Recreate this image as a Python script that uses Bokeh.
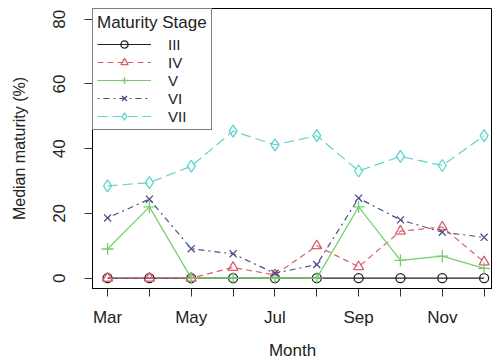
from bokeh.plotting import figure
from bokeh.models import FixedTicker, Legend, LegendItem, Range1d
from bokeh.embed import file_html
from bokeh.resources import INLINE

months = ["Mar", "Apr", "May", "Jun", "Jul", "Aug", "Sep", "Oct", "Nov", "Dec"]
month_num = [3, 4, 5, 6, 7, 8, 9, 10, 11, 12]
shown_labels = ["Mar", "", "May", "", "Jul", "", "Sep", "", "Nov", ""]

stage_III = [0, 0, 0, 0, 0, 0, 0, 0, 0, 0]
stage_IV = [0, 0, 0, 3.3, 1, 10, 3.5, 14.5, 15.8, 5]
stage_V = [9, 22, 0, 0, 0, 0, 22, 5.5, 6.8, 3]
stage_VI = [18.6, 24.4, 9.1, 7.5, 1.5, 4.2, 24.7, 18, 14.2, 12.6]
stage_VII = [28.5, 29.5, 34.6, 45.4, 41.2, 44, 33.1, 37.6, 34.8, 44]

y_ticks = [0, 20, 40, 60, 80]

FONT = "Liberation Sans"
FS = "17px"

p = figure(width=492, height=362, output_backend="svg", toolbar_location=None,
           x_range=Range1d(2.64, 12.2), y_range=Range1d(-3.2, 83.3),
           min_border_left=92, min_border_right=0, min_border_top=8,
           min_border_bottom=73)
p.xgrid.visible = False
p.ygrid.visible = False
p.outline_line_color = "black"
p.outline_line_width = 1
p.background_fill_color = "white"
p.border_fill_color = "white"

series = [
    ("III", stage_III, "#222222", "solid", "circle", 9),
    ("IV", stage_IV, "#d8616f", "6 4", "triangle", 10),
    ("V", stage_V, "#74cf6b", "solid", "cross", 12),
    ("VI", stage_VI, "#4a4f8a", "2 4 6 4", "x", 10),
    ("VII", stage_VII, "#5cd6cc", "10 5", "diamond", 12),
]

items = []
for name, vals, col, dash, mk, sz in series:
    l = p.line(month_num, vals, line_color=col, line_width=1.2, line_dash=dash)
    s = p.scatter(month_num, vals, marker=mk, size=sz, line_color=col,
                  fill_color=None, line_width=1.3)
    items.append(LegendItem(label=name, renderers=[l, s]))

legend = Legend(items=items, location="top_left", title="Maturity Stage",
                margin=0, padding=4, spacing=0, glyph_width=54, glyph_height=18,
                label_height=18, label_standoff=17, title_standoff=2,
                border_line_color="black", border_line_width=1,
                background_fill_color="white", background_fill_alpha=1.0,
                label_text_font=FONT, label_text_font_size="15px",
                title_text_font=FONT, title_text_font_size=FS,
                title_text_font_style="normal", label_text_color="#222222",
                title_text_color="#222222")
p.add_layout(legend)

p.xaxis.ticker = FixedTicker(ticks=month_num)
p.xaxis.major_label_overrides = {m: lab for m, lab in zip(month_num, shown_labels)}
p.yaxis.ticker = FixedTicker(ticks=y_ticks)
p.yaxis.major_label_orientation = "vertical"

p.xaxis.axis_label = "Month"
p.yaxis.axis_label = "Median maturity (%)"

for ax in (p.xaxis, p.yaxis):
    ax.minor_tick_line_color = None
    ax.major_tick_out = 8
    ax.major_tick_in = 0
    ax.major_tick_line_color = "#333333"
    ax.axis_line_color = "black"
    ax.major_label_text_font = FONT
    ax.major_label_text_font_size = FS
    ax.major_label_text_color = "#222222"
    ax.axis_label_text_font = FONT
    ax.axis_label_text_font_size = "16px"
    ax.axis_label_text_font_style = "normal"
    ax.axis_label_text_color = "#222222"

p.xaxis.axis_label_text_font_size = FS
p.xaxis.major_label_standoff = 11
p.xaxis.axis_label_standoff = 11
p.yaxis.major_label_standoff = 19
p.yaxis.axis_label_standoff = 23

open("out.html", "w").write(file_html(p, INLINE))
